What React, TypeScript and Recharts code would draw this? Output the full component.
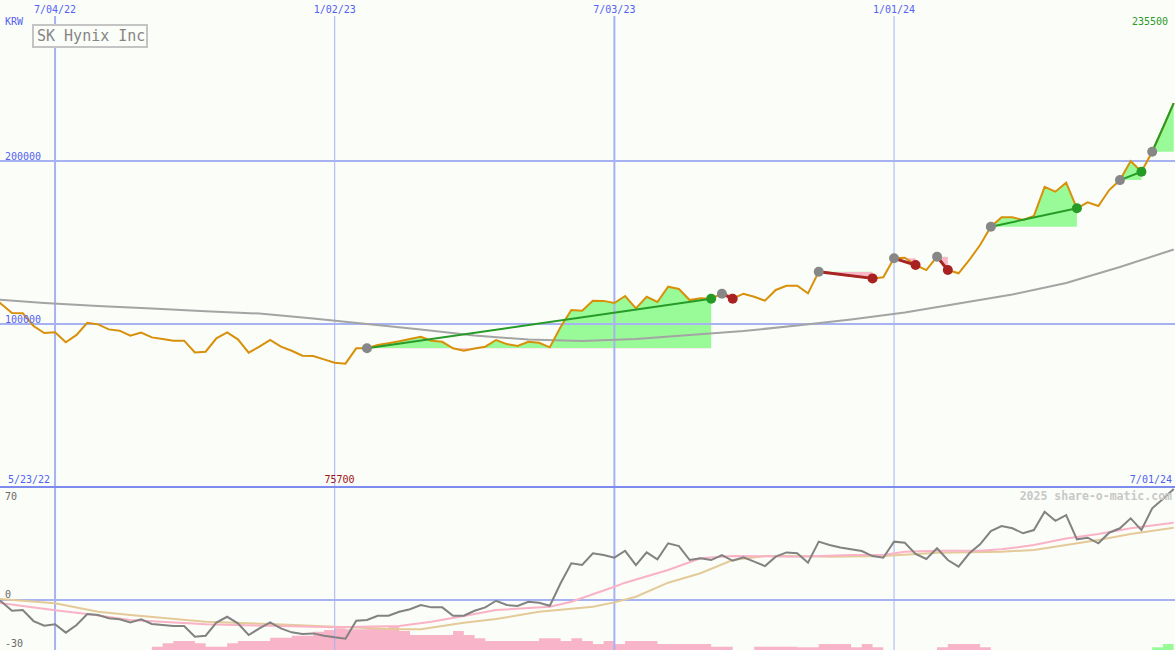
import React from "react";
import {
  ComposedChart,
  XAxis,
  YAxis,
  Line,
  Area,
  ReferenceLine,
  ReferenceDot,
} from "recharts";

const WIDTH = 1175;
const HEIGHT = 650;

const MONO = "'DejaVu Sans Mono', monospace";
const BG = "#fbfdf8";
const GRID = "#a6b2f2";
const SEP = "#7d8bee";
const BLUE_TEXT = "#5262f2";

// weekly closes in KRW, week 0 = 5/23/22, week 110 = 7/01/24
const closes = [
  118400, 112300, 106700, 106600, 98800, 94500, 94900, 88800, 93300, 100800,
  99800, 96700, 95900, 92800, 94700, 91800, 90800, 89800, 89800, 82600,
  83000, 91200, 94900, 90600, 82400, 86100, 90200, 86100, 83600, 80600,
  80400, 78300, 76300, 75700, 85100, 85100, 87100, 88200, 89400, 90800,
  92200, 89800, 89100, 85100, 83600, 85000, 86100, 90200, 87700, 86500,
  89100, 88500, 85700, 98200, 108600, 108200, 114300, 114200, 112900, 117200,
  109600, 116700, 113500, 122900, 121500, 114700, 115800, 115500, 118600, 115500,
  118600, 116700, 114300, 120900, 123500, 123500, 118800, 132100, 131500, 130400,
  129600, 128800, 128000, 128700, 140300, 140700, 136200, 133100, 141300, 133100,
  131100, 139300, 148500, 159700, 165500, 165500, 163800, 166300, 184200, 181200,
  186700, 171000, 174700, 172400, 182200, 188300, 200000, 193400, 205700, 220200,
  235500,
];

// lower pane oscillator, same weeks
const momentum = [
  3, -1, -7.3, -6.8, -14.3, -17.5, -16.5, -22.2, -17, -9.5,
  -10.2, -12.4, -13.1, -15.2, -13.1, -16.3, -17, -17.7, -17.7, -25,
  -24.3, -15.4, -11.4, -15.9, -23.8, -19.3, -15.2, -19.3, -22, -23.1,
  -22.7, -24.3, -25.4, -26.3, -14.1, -13.6, -10.7, -10.7, -8, -6.3,
  -3.4, -5, -5, -10.7, -10.7, -7.3, -5, -0.5, -3.4, -4.1,
  -1.2, -1.8, -3.9, 11.4, 25, 23.8, 31.8, 30.6, 28.8, 33.5,
  23.8, 32.4, 27.7, 38.6, 36.7, 27.2, 28.4, 27.2, 30.6, 26.7,
  29, 26.1, 23.1, 29.5, 32.4, 31.8, 25.4, 39.7, 37.4, 35.7,
  34.5, 33.3, 29.9, 28.8, 39.7, 39, 31.3, 27.9, 35.2, 27.2,
  22.7, 31.8, 37.9, 46.9, 50.3, 48.8, 45.4, 47.6, 60.1, 53.9,
  57.8, 41.3, 42.4, 38.6, 45.8, 48.8, 55.6, 47.6, 62.4, 68.7,
  75.5,
];

// bottom histogram, same weeks
const weakBars = [
  0, 0, 0, 0, 0, 0, 0, 0, 0, 0,
  0, 0, 0, 0, 0, 2, 4.1, 5.5, 5.5, 4.1,
  2, 2, 4.1, 5.5, 5.5, 5.5, 7.5, 7.5, 8.8, 8.8,
  11.2, 12.3, 13.3, 12.7, 12.7, 13.3, 13.3, 14.7, 11.7, 9.2,
  9.2, 9.2, 9.2, 11.7, 9.2, 7.2, 5.5, 5.5, 5.5, 5.5,
  5.5, 7.2, 7.2, 5.5, 7.2, 5.5, 3.7, 5.5, 3.7, 5.5,
  5.5, 5.5, 3.7, 3.7, 3.7, 3.7, 3.7, 2, 2, 0,
  0, 2, 2, 2, 2, 1.7, 1.7, 3.7, 3.7, 3.7,
  1.7, 3.7, 1.7, 0, 0, 0, 0, 0, 1.7, 3.7,
  3.7, 3.7, 1.7, 0, 0, 0, 0, 0, 0, 0,
  0, 0, 0, 0, 0, 0, 0, 0, 0, 0,
  0,
];
const strongBars = closes.map((_, w) => (w === 108 ? 1.7 : w >= 109 ? 3.7 : 0));

// long moving average (upper pane)
const maWeeks = [0, 5, 10, 15, 20, 25, 30, 35, 40, 45, 50, 55, 60, 65, 70, 75, 80, 85, 90, 95, 100, 105, 110];
const maValues = [
  115300, 112900, 111000, 109500, 107900, 106400, 103400, 100000, 96600, 92900,
  90500, 89600, 90800, 93300, 95700, 99100, 102800, 107100, 112600, 118100,
  125200, 135000, 145700,
];

// lower pane averages
const pinkWeeks = [0, 6, 9, 13, 20, 26, 32, 38, 41, 44, 47, 52, 54, 58, 59, 63, 66, 69, 75, 80, 83, 85, 88, 92, 94, 97, 100, 103, 106, 110];
const pinkValues = [
  -1.2, -7, -9.5, -13.6, -16.5, -17.5, -18.5, -17.7, -14.8, -10.9,
  -6.8, -4.5, -1.2, 9, 11.8, 20.4, 28.4, 29.9, 29.5, 30.6,
  30.6, 32.9, 33.6, 33.6, 34.5, 37.4, 41.9, 44.9, 48.8, 52.6,
];
const tanWeeks = [0, 6, 10, 13, 20, 26, 32, 38, 40, 44, 47, 51, 56, 58, 60, 63, 66, 69, 72, 75, 78, 83, 88, 94, 97, 100, 103, 106, 110];
const tanValues = [
  1.2, -2.2, -8, -10.2, -14.8, -16.3, -18.2, -19.9, -19.9, -15.4,
  -12.9, -8, -4.6, -1.6, 2.2, 11.8, 18.2, 27.2, 29.9, 29.9,
  29.5, 29.9, 32.2, 32.9, 34, 37.4, 40.8, 44.9, 49.2,
];

const gridWeeks = [6, 32, 58, 84];
const gridDates = ["7/04/22", "1/02/23", "7/03/23", "1/01/24"];
const gridHeavy = [true, false, true, false];
const priceLevels = [100000, 200000];
const oscLevels = [70, 0, -30];
const firstDate = "5/23/22";
const lastDate = "7/01/24";

// trades: entry week, exit week (last one still open)
const tradeEntries = [35, 68, 77, 84, 88, 93, 105, 108];
const tradeExits = [67, 69, 82, 86, 89, 101, 107, 110];
const tradeOpen = [false, false, false, false, false, false, false, true];

const X_DOMAIN = [0.883, 110.12];
const PRICE_DOMAIN = [-100000, 298800];
const OSC_DOMAIN = [-34, 408.2];
const BAR_DOMAIN = [0, 398.8];
const GRID_TOP = 289000; // vertical lines stop under the date labels

const textShape =
  (text: string, dx: number, dy: number, anchor: string, color: string) =>
  (props: any) => (
    <text
      x={props.cx + dx}
      y={props.cy + dy}
      textAnchor={anchor}
      fill={color}
      fontSize={10}
      fontFamily={MONO}
    >
      {text}
    </text>
  );

export default function App() {
  const rows = closes.map((close, w) => ({
    w,
    close,
    osc: momentum[w],
    weak: weakBars[w],
    strong: strongBars[w],
  }));
  const maRows = maWeeks.map((w, k) => ({ w, ma: maValues[k] }));
  const pinkRows = pinkWeeks.map((w, k) => ({ w, v: pinkValues[k] }));
  const tanRows = tanWeeks.map((w, k) => ({ w, v: tanValues[k] }));

  const trades = tradeEntries.map((entry, k) => {
    const exit = tradeExits[k];
    const entryPrice = closes[entry];
    const exitPrice = closes[exit];
    const band = rows
      .slice(entry, exit + 1)
      .map((r) => ({ w: r.w, band: [entryPrice, r.close] }));
    const vals = band.flatMap((b) => b.band);
    const hi = Math.max(...vals);
    const lo = Math.min(...vals);
    const split = hi === lo ? 1 : (hi - entryPrice) / (hi - lo);
    return {
      k,
      open: tradeOpen[k],
      win: exitPrice >= entryPrice,
      band,
      split,
      path: [
        { w: entry, v: entryPrice },
        { w: exit, v: exitPrice },
      ],
    };
  });

  const lowWeek = closes.indexOf(Math.min(...closes));
  const lastClose = closes[closes.length - 1];

  return (
    <div
      style={{
        position: "absolute",
        left: 0,
        top: 0,
        width: WIDTH,
        height: HEIGHT,
        background: BG,
      }}
    >
      <ComposedChart
        width={WIDTH}
        height={HEIGHT}
        data={rows}
        margin={{ top: 0, right: 0, bottom: 0, left: 0 }}
      >
        <defs>
          {trades.map((t) => (
            <linearGradient
              key={t.k}
              id={`tradeFill${t.k}`}
              x1="0"
              y1="0"
              x2="0"
              y2="1"
            >
              <stop offset={t.split} stopColor="#98fb98" />
              <stop offset={t.split} stopColor="#f8b6c6" />
            </linearGradient>
          ))}
        </defs>
        <XAxis
          dataKey="w"
          type="number"
          domain={X_DOMAIN}
          allowDataOverflow
          hide
        />
        <YAxis yAxisId="price" type="number" domain={PRICE_DOMAIN} hide />
        <YAxis yAxisId="osc" type="number" domain={OSC_DOMAIN} hide />
        <YAxis yAxisId="bar" type="number" domain={BAR_DOMAIN} hide />

        {gridWeeks.map((w, k) => (
          <ReferenceLine
            key={`v${w}`}
            yAxisId="price"
            ifOverflow="visible"
            segment={[
              { x: w, y: PRICE_DOMAIN[0] },
              { x: w, y: GRID_TOP },
            ]}
            stroke={GRID}
            strokeWidth={gridHeavy[k] ? 2 : 1}
          />
        ))}
        {priceLevels.map((p) => (
          <ReferenceLine
            key={`h${p}`}
            yAxisId="price"
            y={p}
            stroke={GRID}
            strokeWidth={2}
          />
        ))}
        <ReferenceLine yAxisId="osc" y={0} stroke={GRID} strokeWidth={2} />
        <ReferenceLine yAxisId="price" y={0} stroke={SEP} strokeWidth={2} />

        {trades.map((t) => (
          <Area
            key={`a${t.k}`}
            yAxisId="price"
            data={t.band}
            dataKey="band"
            type="linear"
            stroke="none"
            fill={`url(#tradeFill${t.k})`}
            fillOpacity={1}
            dot={false}
            activeDot={false}
            isAnimationActive={false}
          />
        ))}

        <Line
          yAxisId="price"
          data={maRows}
          dataKey="ma"
          stroke="#a4a4a4"
          strokeWidth={2}
          dot={false}
          activeDot={false}
          isAnimationActive={false}
        />
        <Line
          yAxisId="price"
          dataKey="close"
          stroke="#d8900a"
          strokeWidth={2}
          dot={false}
          activeDot={false}
          isAnimationActive={false}
        />
        {trades.map((t) => (
          <Line
            key={`t${t.k}`}
            yAxisId="price"
            data={t.path}
            dataKey="v"
            stroke={t.win ? "#279b27" : "#a52525"}
            strokeWidth={t.win ? 2 : 3}
            activeDot={false}
            isAnimationActive={false}
            dot={(props: any) => {
              const key = `d${t.k}-${props.index}`;
              if (props.index === 1 && t.open) return <g key={key} />;
              const fill =
                props.index === 0 ? "#878787" : t.win ? "#259b25" : "#a82222";
              return (
                <circle key={key} cx={props.cx} cy={props.cy} r={5} fill={fill} />
              );
            }}
          />
        ))}

        <Area
          yAxisId="bar"
          dataKey="weak"
          type="stepAfter"
          stroke="none"
          fill="#f8b4c8"
          fillOpacity={1}
          dot={false}
          activeDot={false}
          isAnimationActive={false}
        />
        <Area
          yAxisId="bar"
          dataKey="strong"
          type="stepAfter"
          stroke="none"
          fill="#98fb98"
          fillOpacity={1}
          dot={false}
          activeDot={false}
          isAnimationActive={false}
        />
        <Line
          yAxisId="osc"
          data={tanRows}
          dataKey="v"
          stroke="#e4ca98"
          strokeWidth={2}
          dot={false}
          activeDot={false}
          isAnimationActive={false}
        />
        <Line
          yAxisId="osc"
          data={pinkRows}
          dataKey="v"
          stroke="#f9b2c6"
          strokeWidth={2}
          dot={false}
          activeDot={false}
          isAnimationActive={false}
        />
        <Line
          yAxisId="osc"
          dataKey="osc"
          stroke="#828282"
          strokeWidth={2}
          dot={false}
          activeDot={false}
          isAnimationActive={false}
        />

        {gridWeeks.map((w, k) => (
          <ReferenceDot
            key={`dl${w}`}
            yAxisId="price"
            x={w}
            y={GRID_TOP}
            ifOverflow="visible"
            shape={textShape(gridDates[k], 0, -3, "middle", BLUE_TEXT)}
          />
        ))}
        {priceLevels.map((p) => (
          <ReferenceDot
            key={`pl${p}`}
            yAxisId="price"
            x={X_DOMAIN[0]}
            y={p}
            ifOverflow="visible"
            shape={textShape(String(p), 5, -1.5, "start", BLUE_TEXT)}
          />
        ))}
        {oscLevels.map((v) => (
          <ReferenceDot
            key={`ol${v}`}
            yAxisId="osc"
            x={X_DOMAIN[0]}
            y={v}
            ifOverflow="visible"
            shape={textShape(String(v), 5, v === 0 ? -2.5 : 3, "start", "#6a6a6a")}
          />
        ))}
        <ReferenceDot
          yAxisId="price"
          x={X_DOMAIN[0]}
          y={0}
          ifOverflow="visible"
          shape={textShape(firstDate, 8, -4, "start", BLUE_TEXT)}
        />
        <ReferenceDot
          yAxisId="price"
          x={X_DOMAIN[1]}
          y={0}
          ifOverflow="visible"
          shape={textShape(lastDate, -3, -4, "end", BLUE_TEXT)}
        />
        <ReferenceDot
          yAxisId="price"
          x={lowWeek}
          y={0}
          ifOverflow="visible"
          shape={textShape(String(closes[lowWeek]), -6, -4, "middle", "#a01414")}
        />
      </ComposedChart>

      <svg
        width={WIDTH}
        height={HEIGHT}
        style={{ position: "absolute", left: 0, top: 0, pointerEvents: "none" }}
      >
        <text x={5} y={25} fill={BLUE_TEXT} fontSize={10} fontFamily={MONO}>
          KRW
        </text>
        <rect
          x={33}
          y={25}
          width={114}
          height={22}
          fill={BG}
          stroke="#c4c4c4"
          strokeWidth={2}
        />
        <text x={37} y={41} fill="#858585" fontSize={15} fontFamily={MONO}>
          SK Hynix Inc
        </text>
        <text
          x={1168}
          y={25}
          textAnchor="end"
          fill="#2a9a2a"
          fontSize={10}
          fontFamily={MONO}
        >
          {lastClose}
        </text>
        <text
          x={1172}
          y={500}
          textAnchor="end"
          fill="#c8c8c8"
          fontSize={11.5}
          fontWeight="bold"
          fontFamily={MONO}
        >
          2025 share-o-matic.com
        </text>
      </svg>
    </div>
  );
}
